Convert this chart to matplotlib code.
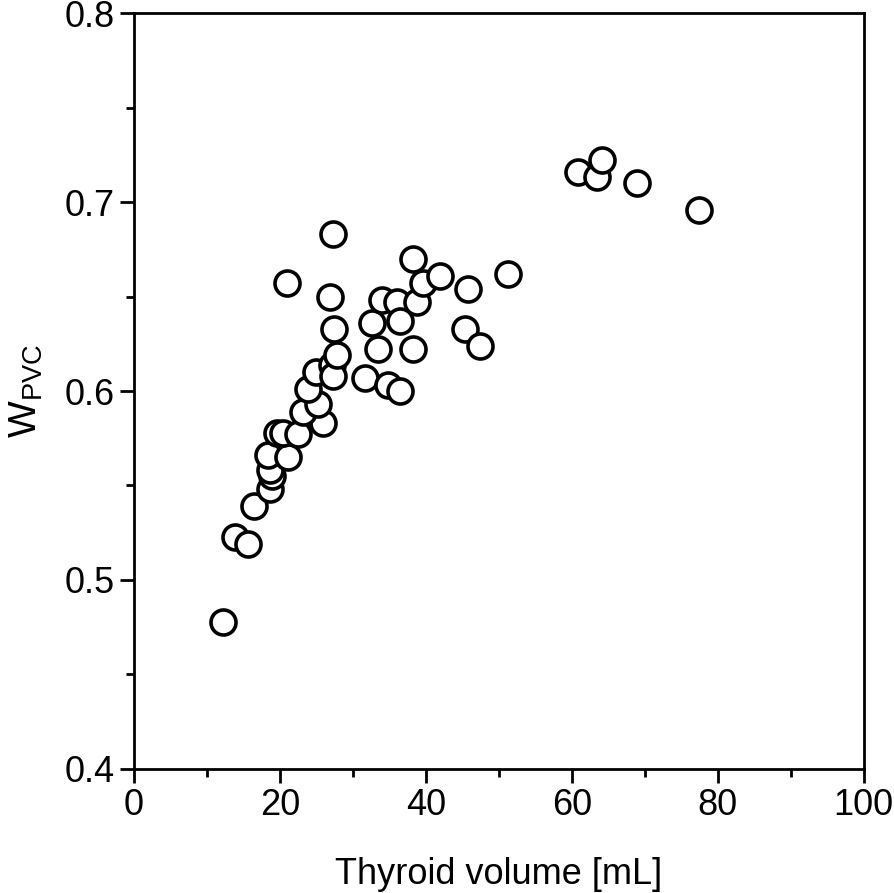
import matplotlib
matplotlib.use("Agg")
import matplotlib.pyplot as plt
from matplotlib.ticker import MultipleLocator

plt.rcParams['font.family'] = ['Liberation Sans', 'DejaVu Sans']
plt.rcParams['mathtext.default'] = 'regular'

thyroid_volume = [12.2, 13.8, 15.6, 16.4, 18.6, 18.9, 18.6, 18.4, 21.1, 19.6,
                  20.4, 22.5, 25.9, 23.2, 25.2, 23.8, 25.0, 27.1, 27.3, 27.8,
                  27.4, 26.8, 21.0, 27.3, 31.6, 33.4, 32.6, 34.0, 36.0, 36.4,
                  34.8, 36.4, 38.2, 38.8, 38.2, 39.6, 41.9, 45.8, 45.3, 47.4,
                  51.2, 60.8, 63.4, 64.1, 68.9, 77.4]
w_pvc = [0.478, 0.523, 0.519, 0.539, 0.548, 0.555, 0.558, 0.566, 0.565, 0.578,
         0.578, 0.577, 0.583, 0.589, 0.593, 0.601, 0.610, 0.614, 0.608, 0.619,
         0.633, 0.650, 0.657, 0.683, 0.607, 0.622, 0.636, 0.648, 0.647, 0.637,
         0.603, 0.600, 0.622, 0.647, 0.670, 0.657, 0.661, 0.654, 0.633, 0.624,
         0.662, 0.716, 0.713, 0.722, 0.710, 0.696]

fig = plt.figure(figsize=(8.94, 8.93), dpi=100)
ax = fig.add_axes([0.150, 0.1389, 0.816, 0.8465])

ax.plot(thyroid_volume, w_pvc, linestyle='none', marker='o', markersize=18,
        markerfacecolor='white', markeredgecolor='black', markeredgewidth=2.6)

ax.set_xlim(0, 100)
ax.set_ylim(0.4, 0.8)
ax.xaxis.set_major_locator(MultipleLocator(20))
ax.xaxis.set_minor_locator(MultipleLocator(10))
ax.yaxis.set_major_locator(MultipleLocator(0.1))
ax.yaxis.set_minor_locator(MultipleLocator(0.05))

for s in ax.spines.values():
    s.set_linewidth(2)
ax.tick_params(which='major', direction='out', length=10, width=2, labelsize=26, pad=4)
ax.tick_params(which='minor', direction='out', length=5.5, width=2)
ax.tick_params(top=False, right=False, which='both')

ax.set_xlabel('Thyroid volume [mL]', fontsize=26, labelpad=24)
ax.set_ylabel('$W_{PVC}$', fontsize=28, labelpad=14)

fig.savefig('out.png', dpi=100)
